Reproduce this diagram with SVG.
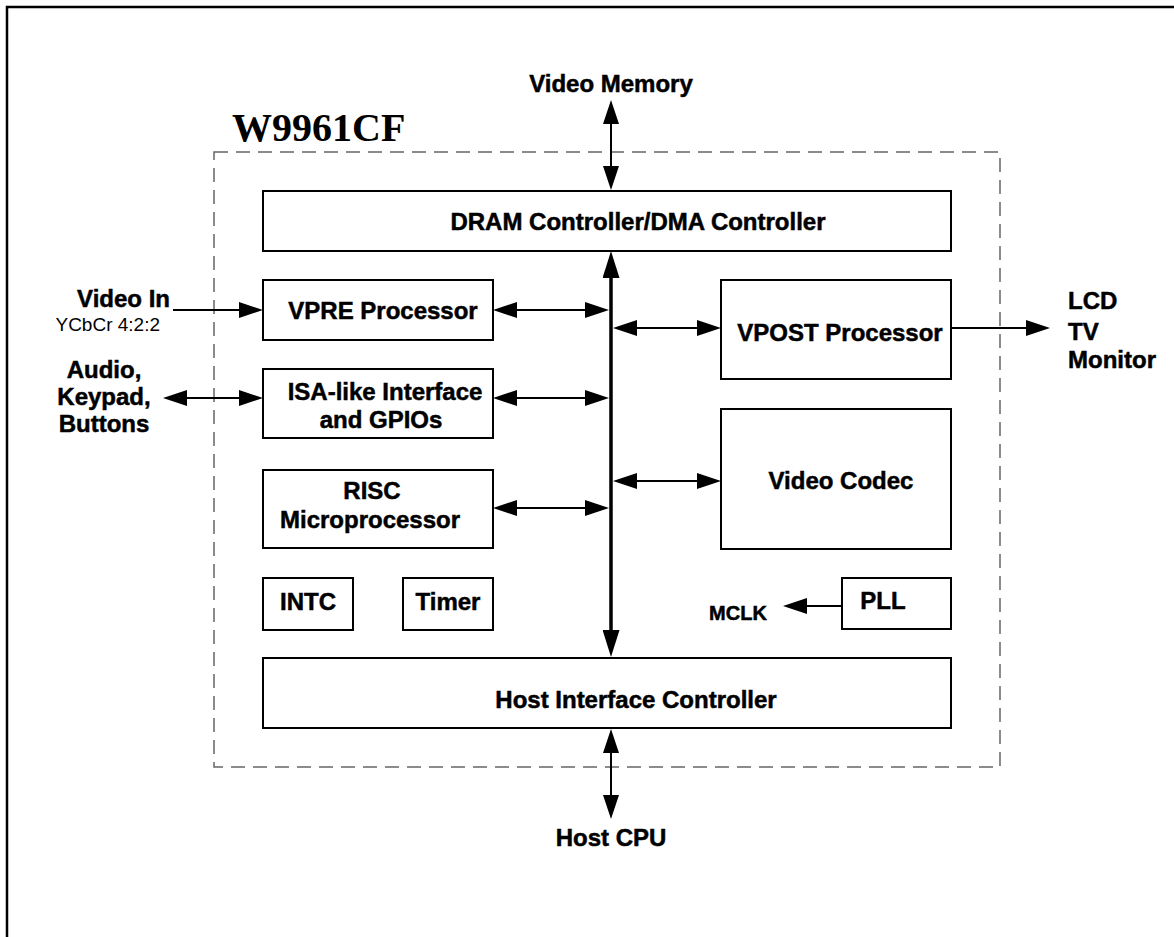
<svg xmlns="http://www.w3.org/2000/svg" width="1174" height="937" viewBox="0 0 1174 937">
<style>
.box{fill:#fff;stroke:#000;stroke-width:2}
.t{font-family:"Liberation Sans",Arial,sans-serif;font-weight:bold;font-size:24px;fill:#000;stroke:#000;stroke-width:0.5;text-anchor:middle}
.l{stroke:#000;stroke-width:2;fill:none}
.bus{stroke:#000;stroke-width:3.5;fill:none}
</style>
<defs>
<marker id="ah" viewBox="0 0 24 16" refX="0" refY="8" markerWidth="24" markerHeight="16" markerUnits="userSpaceOnUse" orient="auto-start-reverse">
<path d="M0,0 L24,8 L0,16 Z" fill="#000"/>
</marker>
<marker id="ahb" viewBox="0 0 27 17" refX="0" refY="8.5" markerWidth="27" markerHeight="17" markerUnits="userSpaceOnUse" orient="auto-start-reverse">
<path d="M0,0 L27,8.5 L0,17 Z" fill="#000"/>
</marker>
</defs>
<rect width="1174" height="937" fill="#fff"/>
<path d="M7,937 V7 H1174" fill="none" stroke="#000" stroke-width="2.5"/>
<g id="chip">
<rect x="214" y="152" width="786" height="615" fill="none" stroke="#666" stroke-width="1.5" stroke-dasharray="14 8"/>
<text x="232" y="141" style="font-family:'Liberation Serif','Times New Roman',serif;font-weight:bold;font-size:40px">W9961CF</text>
</g>
<g id="connectors">
<path class="l" d="M611,124 V166" marker-start="url(#ah)" marker-end="url(#ah)"/>
<path class="bus" d="M611,278 V630" marker-start="url(#ahb)" marker-end="url(#ahb)"/>
<path class="l" d="M611,753 V795" marker-start="url(#ah)" marker-end="url(#ah)"/>
<path class="l" d="M173,310 H239" marker-end="url(#ah)"/>
<path class="l" d="M187,398 H239" marker-start="url(#ah)" marker-end="url(#ah)"/>
<path class="l" d="M517,310 H585" marker-start="url(#ah)" marker-end="url(#ah)"/>
<path class="l" d="M517,398 H585" marker-start="url(#ah)" marker-end="url(#ah)"/>
<path class="l" d="M517,508 H585" marker-start="url(#ah)" marker-end="url(#ah)"/>
<path class="l" d="M637,328 H697" marker-start="url(#ah)" marker-end="url(#ah)"/>
<path class="l" d="M637,481 H697" marker-start="url(#ah)" marker-end="url(#ah)"/>
<path class="l" d="M951,328 H1026" marker-end="url(#ah)"/>
<path class="l" d="M842,606 H807" marker-end="url(#ah)"/>
</g>
<g id="dram"><rect class="box" x="263" y="191" width="688" height="60"/><text class="t" x="638" y="230">DRAM Controller/DMA Controller</text></g>
<g id="vpre"><rect class="box" x="263" y="280" width="230" height="60"/><text class="t" x="383" y="319">VPRE Processor</text></g>
<g id="isa"><rect class="box" x="263" y="369" width="230" height="69"/><text class="t" x="385" y="400">ISA-like Interface</text><text class="t" x="381" y="428">and GPIOs</text></g>
<g id="risc"><rect class="box" x="263" y="470" width="230" height="78"/><text class="t" x="372" y="499">RISC</text><text class="t" x="370" y="528">Microprocessor</text></g>
<g id="intc"><rect class="box" x="263" y="578" width="90" height="52"/><text class="t" x="308" y="610">INTC</text></g>
<g id="timer"><rect class="box" x="403" y="578" width="90" height="52"/><text class="t" x="448" y="610">Timer</text></g>
<g id="vpost"><rect class="box" x="721" y="280" width="230" height="99"/><text class="t" x="840" y="341">VPOST Processor</text></g>
<g id="codec"><rect class="box" x="721" y="409" width="230" height="140"/><text class="t" x="841" y="489">Video Codec</text></g>
<g id="pll"><rect class="box" x="842" y="578" width="109" height="51"/><text class="t" x="883" y="609">PLL</text></g>
<g id="host"><rect class="box" x="263" y="658" width="688" height="70"/><text class="t" x="636" y="708">Host Interface Controller</text></g>
<g id="labels">
<text class="t" x="611" y="92">Video Memory</text>
<text class="t" x="611" y="846">Host CPU</text>
<text class="t" x="170" y="307" style="text-anchor:end">Video In</text>
<text x="160" y="331" style="font-family:'Liberation Sans',Arial,sans-serif;font-size:19px;text-anchor:end">YCbCr 4:2:2</text>
<text class="t" x="104" y="378">Audio,</text>
<text class="t" x="104" y="405">Keypad,</text>
<text class="t" x="104" y="432">Buttons</text>
<text class="t" x="1068" y="309" style="text-anchor:start">LCD</text>
<text class="t" x="1068" y="340" style="text-anchor:start">TV</text>
<text class="t" x="1068" y="368" style="text-anchor:start">Monitor</text>
<text class="t" x="738" y="620" style="font-size:20px">MCLK</text>
</g>
</svg>
